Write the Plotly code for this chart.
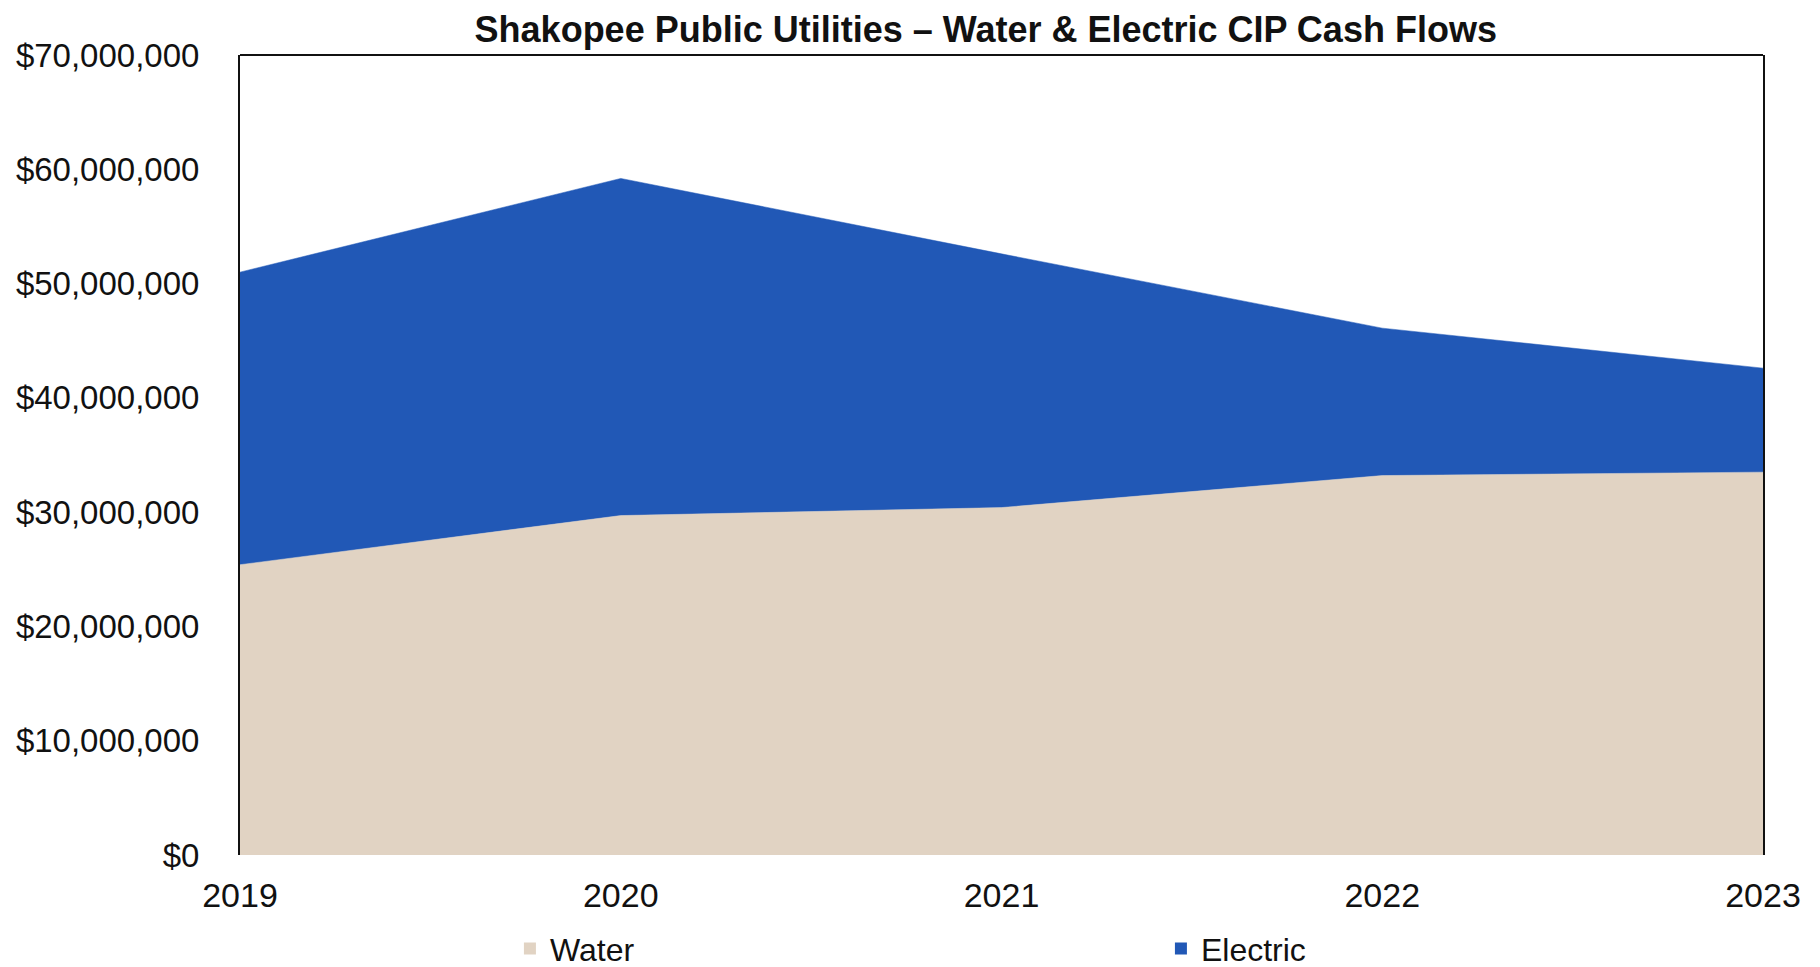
import plotly.graph_objects as go

years = [2019, 2020, 2021, 2022, 2023]
water = [25.4e6, 29.7e6, 30.4e6, 33.2e6, 33.5e6]
electric = [25.6e6, 29.5e6, 22.2e6, 12.9e6, 9.1e6]
y_ticks = [0, 10e6, 20e6, 30e6, 40e6, 50e6, 60e6, 70e6]
y_labels = ["$0", "$10,000,000", "$20,000,000", "$30,000,000", "$40,000,000",
            "$50,000,000", "$60,000,000", "$70,000,000"]

FONT = "Liberation Sans, Arial, sans-serif"
WATER_C = "#E1D3C3"
ELEC_C = "#2158B6"

fig = go.Figure()
fig.add_trace(go.Scatter(x=years, y=water, name="Water", stackgroup="one",
                         mode="lines", line=dict(width=0.5, color=WATER_C),
                         fillcolor=WATER_C, showlegend=False))
fig.add_trace(go.Scatter(x=years, y=electric, name="Electric", stackgroup="one",
                         mode="lines", line=dict(width=0.5, color=ELEC_C),
                         fillcolor=ELEC_C, showlegend=False))
# legend entries with square swatches
fig.add_trace(go.Scatter(x=[None], y=[None], name="Water", mode="markers",
                         marker=dict(symbol="square", size=14, color=WATER_C)))
fig.add_trace(go.Scatter(x=[None], y=[None], name="Electric", mode="markers",
                         marker=dict(symbol="square", size=14, color=ELEC_C)))

fig.update_layout(
    width=1812, height=959,
    paper_bgcolor="white", plot_bgcolor="white",
    margin=dict(l=232, r=57, t=47, b=112),
    font=dict(family=FONT, size=33, color="#111111"),
    title=dict(text="<b>Shakopee Public Utilities – Water & Electric CIP Cash Flows</b>",
               x=0.5396, xanchor="center", y=0.978, yanchor="middle",
               font=dict(family=FONT, size=36, color="#111111")),
    showlegend=True,
    legend=dict(orientation="h", xref="container", yref="container",
                x=0.277, xanchor="left", y=0.019, yanchor="middle",
                entrywidth=606, entrywidthmode="pixels",
                font=dict(family=FONT, size=32, color="#111111"),
                itemsizing="constant", traceorder="normal", bgcolor="rgba(0,0,0,0)"),
    xaxis=dict(range=[2019, 2023], tickvals=years, ticktext=[str(y) for y in years],
               showgrid=False, zeroline=False, showline=False, automargin=False,
               ticks="outside", ticklen=10, tickcolor="rgba(0,0,0,0)",
               tickfont=dict(family=FONT, size=34, color="#111111")),
    yaxis=dict(range=[0, 70e6], tickvals=y_ticks, ticktext=y_labels,
               showgrid=False, zeroline=False, showline=True, mirror=True,
               linecolor="#111111", linewidth=2, automargin=False,
               ticks="outside", ticklen=32, tickcolor="rgba(0,0,0,0)",
               tickfont=dict(family=FONT, size=33, color="#111111")),
    shapes=[dict(type="line", xref="paper", yref="paper", x0=0, x1=1, y0=1, y1=1,
                 line=dict(color="#111111", width=2))],
)

fig.write_html("out.html")
